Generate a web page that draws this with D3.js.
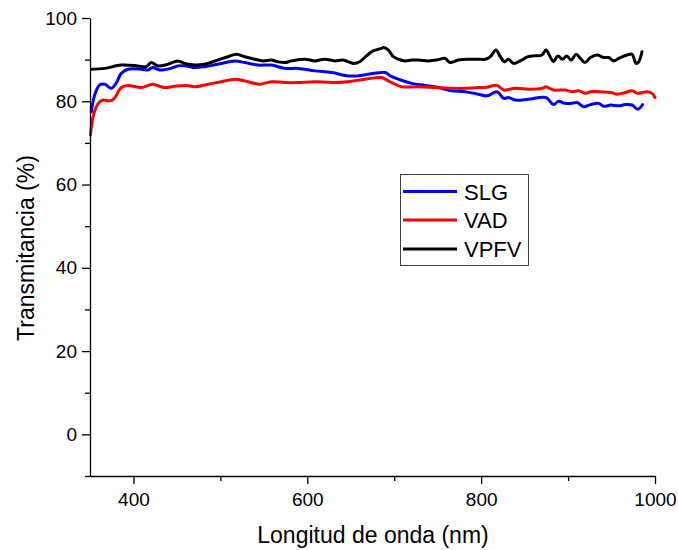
<!DOCTYPE html>
<html>
<head>
<meta charset="utf-8">
<script src="https://cdn.jsdelivr.net/npm/d3@7"></script>
<style>
  html, body { margin: 0; padding: 0; background: #fff; }
  svg { display: block; font-family: "Liberation Sans", Arial, sans-serif; }
</style>
</head>
<body>
<svg id="chart" width="678" height="550"></svg>
<script>
// ---- Data ----
const seriesNames = ["SLG", "VAD", "VPFV"];
const seriesColors = ["#0000ff", "#ff0000", "#000000"];

const slgX = [351.5,355.4,361,367,374.5,380,386,393.6,409,416.6,422,430,443,451,460.6,470.6,482,497,516.5,528,543,558.7,574,589.6,608.7,628,647,658.6,670,685.3,689.6,697.2,704.8,720,735.5,750.8,766,781.4,796.7,806.7,818.2,826,831.5,839,854.5,874.5,883.2,889,896.6,904.3,910.4,918.1,925.7,935.3,941,949.1,958.3,965.9,973.6,980.1,985.8];
const slgY = [77.5,81.5,83.9,84.1,83.1,84.3,86.7,87.7,87.7,87.5,88.1,87.5,87.9,88.5,88.5,88.1,88.3,88.9,89.7,89.3,88.7,88.7,87.9,87.9,87.3,86.9,86.1,86.1,86.5,86.9,86.9,85.9,85.3,84.3,83.8,83.3,82.5,82.3,81.7,81.3,82.3,80.7,80.9,80.3,80.5,80.9,79.2,80.0,79.5,79.5,79.7,78.7,79.2,79.5,78.8,79.1,78.9,79.2,79.1,78.1,79.2];

const vadX = [350.5,354,359.5,365,373,378,386,393.6,409,422,435,447,460.6,470.6,485.8,501,516.5,528,545,558.7,574,589.6,608.7,628,647,665.8,685.3,689.6,697.2,708.6,727.8,747,766,781.4,796.7,804.8,818.2,826,839,854.5,869.9,874.5,883.2,896.6,904.3,912.4,920,925.7,935.3,949.1,956.3,965.9,973.6,980.1,990.8,996.5,1000];
const vadY = [71.9,76.7,79.5,80.3,80.1,80.7,83.3,83.8,83.3,84.1,83.3,83.6,83.8,83.5,84.1,84.7,85.3,84.9,84.1,84.7,84.5,84.5,84.7,84.5,84.7,85.3,85.7,85.3,84.5,83.5,83.5,83.3,83.1,83.1,83.3,83.3,83.8,82.7,83.1,82.9,83.1,83.5,82.7,82.7,82.3,82.5,81.9,82.3,82.3,82.1,81.7,82.1,82.5,81.9,82.3,81.9,80.9];

const vpfvX = [351.5,367,386,405,414.7,420.4,428,439.6,451,458.7,470.6,482,497,508.8,518.5,528,539.5,549,558.7,566,574,582,597,608.7,620,631.7,641,652.8,660.4,668,675.8,685.3,687.6,693.4,699,704.8,712.5,720,727.8,739.3,748.9,758.5,764.2,773.7,785.2,796.7,804.8,810.5,817,822,827,831.5,837.3,845,852.6,860.2,869.9,874.5,879.4,883.2,888.2,893.5,898.5,903.5,909.3,914.2,919.3,925.7,933.4,941,946.8,952.5,960.1,967.8,973.6,978.2,981.3,985];
const vpfvY = [87.7,87.9,88.7,88.5,88.3,89.3,88.5,88.9,89.7,89.1,88.7,88.9,89.9,90.7,91.3,90.7,90.1,89.7,89.9,89.5,89.3,89.7,90.1,89.7,90.1,89.7,89.9,89.1,89.5,90.9,92.1,92.7,92.9,92.3,90.7,90.1,89.7,89.9,89.9,89.7,89.9,90.3,89.3,89.9,90.1,90.1,90.1,90.7,92.3,90.7,89.5,90.1,89.1,89.7,90.6,90.9,91.1,92.3,90.7,89.5,90.9,90.1,90.9,89.9,91.3,90.3,89.3,90.5,91.1,90.5,90.5,89.7,90.5,91.1,91.3,89.1,89.5,91.9];

const xTickValues = [400, 600, 800, 1000];
const xMinorTicks = [500, 700, 900];
const yTickValues = [0, 20, 40, 60, 80, 100];
const yMinorTicks = [-10, 10, 30, 50, 70, 90];

const xTitle = "Longitud de onda (nm)";
const yTitle = "Transmitancia (%)";

// ---- Build series ----
const xs = [slgX, vadX, vpfvX];
const ys = [slgY, vadY, vpfvY];
const series = seriesNames.map((name, i) => ({
  name, color: seriesColors[i],
  points: xs[i].map((xv, j) => ({ x: xv, y: ys[i][j] }))
}));

// ---- Layout ----
const svg = d3.select("#chart");
const mLeft = 90, mRight = 655, mTop = 18, mBottom = 476;

const x = d3.scaleLinear().domain([350, 1000]).range([mLeft, mRight]);
const y = d3.scaleLinear().domain([-10, 100]).range([mBottom, mTop]);

// Lines
const line = d3.line().x(d => x(d.x)).y(d => y(d.y)).curve(d3.curveCatmullRom.alpha(0.5));
svg.append("g").selectAll("path").data(series).join("path")
  .attr("d", d => line(d.points))
  .attr("fill", "none")
  .attr("stroke", d => d.color)
  .attr("stroke-width", 3)
  .attr("stroke-linejoin", "round")
  .attr("stroke-linecap", "round");

// X axis
const xAxisG = svg.append("g").attr("transform", `translate(0,${mBottom})`);
xAxisG.call(d3.axisBottom(x).tickValues(xTickValues).tickSize(8).tickPadding(9).tickSizeOuter(0).tickFormat(d3.format("d")));
xAxisG.append("g").call(d3.axisBottom(x).tickValues(xMinorTicks).tickSize(5).tickSizeOuter(0).tickFormat(""))
  .select(".domain").remove();

// Y axis
const yAxisG = svg.append("g").attr("transform", `translate(${mLeft},0)`);
yAxisG.call(d3.axisLeft(y).tickValues(yTickValues).tickSize(8).tickPadding(5).tickSizeOuter(0).tickFormat(d3.format("d")));
yAxisG.append("g").call(d3.axisLeft(y).tickValues(yMinorTicks).tickSize(5).tickSizeOuter(0).tickFormat(""))
  .select(".domain").remove();

svg.selectAll(".domain").attr("stroke", "#000").attr("stroke-width", 1.3);
svg.selectAll(".tick line").attr("stroke", "#000").attr("stroke-width", 1.3);
svg.selectAll(".tick text").attr("font-size", 19).attr("fill", "#000")
  .attr("font-family", "'Liberation Sans', Arial, sans-serif");

// Axis titles
svg.append("text")
  .attr("x", 373).attr("y", 543)
  .attr("text-anchor", "middle")
  .attr("font-size", 23)
  .attr("fill", "#000")
  .text(xTitle);

svg.append("text")
  .attr("transform", "translate(34,248) rotate(-90)")
  .attr("text-anchor", "middle")
  .attr("font-size", 23)
  .attr("fill", "#000")
  .text(yTitle);

// Legend
const lg = svg.append("g");
lg.append("rect")
  .attr("x", 400.5).attr("y", 174.5).attr("width", 128).attr("height", 91)
  .attr("fill", "#fff").attr("stroke", "#444").attr("stroke-width", 1);
const rowY = [191.5, 220, 249];
series.forEach((s, i) => {
  lg.append("line")
    .attr("x1", 403).attr("x2", 457)
    .attr("y1", rowY[i]).attr("y2", rowY[i])
    .attr("stroke", s.color).attr("stroke-width", 3);
  lg.append("text")
    .attr("x", 464).attr("y", rowY[i] + 8)
    .attr("font-size", 22).attr("fill", "#000")
    .text(s.name);
});
</script>
</body>
</html>
